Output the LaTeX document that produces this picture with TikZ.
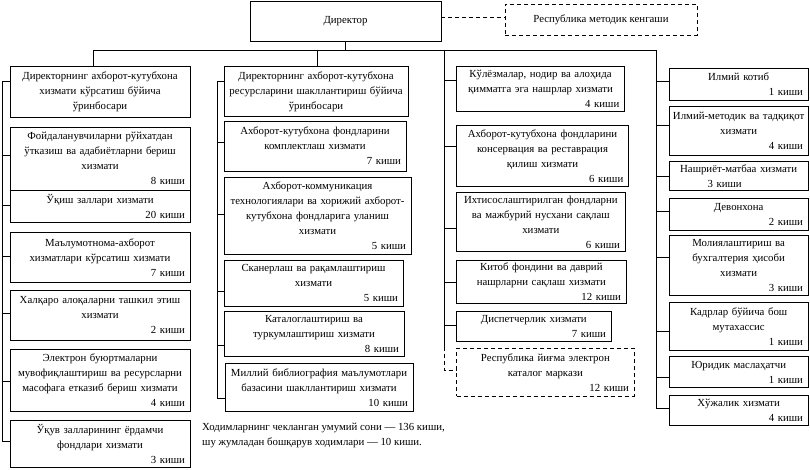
\documentclass[tikz,border=0pt]{standalone}
\usepackage{fontspec}
\setmainfont{Liberation Serif}
\tikzset{
  ubox/.style={draw, line width=0.8pt, inner xsep=1pt, inner ysep=1pt, font=\fontsize{10.8}{15}\selectfont},
  dbox/.style={ubox, dash pattern=on 4pt off 3pt},
  conn/.style={line width=0.8pt},
  dconn/.style={conn, dash pattern=on 4pt off 3pt},
}
\newcommand\obox[8][ubox]{%
  \pgfmathsetmacro\obtw{#5-2}%
  \node[#1, minimum width=#5pt, minimum height=#6pt, text width=\obtw pt] (#2) at (#3,#4)
  {\centering #7\par\if\relax\detokenize{#8}\relax\else\raggedleft #8\hspace*{4pt}\par\fi};}
\begin{document}
\begin{tikzpicture}[x=1pt, y=-1pt]
\useasboundingbox (0,0) rectangle (810,469);
% top
\node[ubox, minimum width=191pt, minimum height=40pt] (dir) at (345.5,21) {Директор};
\node[dbox, minimum width=192pt, minimum height=31pt] (council) at (601,19.7) {Республика методик кенгаши};
\coordinate (dl) at (441,17);
\draw[dconn] (dl) -- (dl -| council.west);
% bus
\coordinate (d1) at (93,50);
\coordinate (d2) at (317.7,50);
\coordinate (d3) at (444,50);
\coordinate (d4) at (656,50);
\draw[conn] (dir.south) -- (dir.south |- d1);
\draw[conn] (d1) -- (d4);
% column 1
\obox{c1a}{100}{92}{180}{50.6}{Директорнинг ахборот-кутубхона\\хизмати кўрсатиш бўйича\\ўринбосари}{}
\obox{c1b}{100}{158.85}{180}{62.3}{Фойдаланувчиларни рўйхатдан\\ўтказиш ва адабиётларни бериш\\хизмати}{8 киши}
\obox{c1c}{100}{206.35}{180}{32.7}{Ўқиш заллари хизмати}{20 киши}
\obox{c1d}{100}{257.5}{180}{49.6}{Маълумотнома-ахборот\\хизматлари кўрсатиш хизмати}{7 киши}
\obox{c1e}{100}{315.35}{180}{49.3}{Халқаро алоқаларни ташкил этиш\\хизмати}{2 киши}
\obox{c1f}{100}{380.15}{180}{61.7}{Электрон буюртмаларни\\мувофиқлаштириш ва ресурсларни\\масофага етказиб бериш хизмати}{4 киши}
\obox{c1g}{100}{443.65}{180}{47.3}{Ўқув залларининг ёрдамчи\\фондлари хизмати}{3 киши}
\draw[conn] (d1) -- (d1 |- c1a.north);
\coordinate (s1a) at (2,81);
\coordinate (s1b) at (2,155);
\coordinate (s1c) at (2,205);
\coordinate (s1d) at (2,256.7);
\coordinate (s1e) at (2,313);
\coordinate (s1f) at (2,381.7);
\coordinate (s1g) at (2,441.7);
\draw[conn] (s1a) -- (s1g);
\foreach \s in {a,b,c,d,e,f,g} \draw[conn] (s1\s) -- (s1\s -| c1\s.west);
% column 2
\obox{c2a}{316}{91.35}{184}{49.3}{Директорнинг ахборот-кутубхона\\ресурсларини шакллантириш бўйича\\ўринбосари}{}
\obox{c2b}{315}{146}{182}{50}{Ахборот-кутубхона фондларини\\комплектлаш хизмати}{7 киши}
\obox{c2c}{317.5}{215.8}{187}{77}{Ахборот-коммуникация\\технологиялари ва хорижий ахборот-\\кутубхона фондларига уланиш\\хизмати}{5 киши}
\obox{c2d}{313.5}{283.35}{179}{45.3}{Сканерлаш ва рақамлаштириш\\хизмати}{5 киши}
\obox{c2e}{314}{334.2}{180}{45}{Каталоглаштириш ва\\туркумлаштириш хизмати}{8 киши}
\obox{c2f}{319}{387.5}{188}{48.4}{Миллий библиография маълумотлари\\базасини шакллантириш хизмати}{10 киши}
\draw[conn] (d2) -- (d2 |- c2a.north);
\coordinate (s2a) at (217,81.7);
\coordinate (s2b) at (217,142.7);
\coordinate (s2c) at (217,214.3);
\coordinate (s2d) at (217,291.7);
\coordinate (s2e) at (217,345);
\coordinate (s2f) at (217,398.3);
\draw[conn] (s2a) -- (s2f);
\foreach \s in {a,b,c,d,e,f} \draw[conn] (s2\s) -- (s2\s -| c2\s.west);
% column 3
\obox{c3a}{540.5}{88.85}{167.6}{45.7}{Кўлёзмалар, нодир ва алоҳида\\қимматга эга нашрлар хизмати}{4 киши}
\obox{c3b}{542.5}{155.85}{171.6}{61.7}{Ахборот-кутубхона фондларини\\консервация ва реставрация\\қилиш хизмати}{6 киши}
\obox{c3c}{540.85}{221.85}{168.3}{59.7}{Ихтисослаштирилган фондларни\\ва мажбурий нусхани сақлаш\\хизмати}{6 киши}
\obox{c3d}{541.35}{281.65}{169.3}{43.3}{Китоб фондини ва даврий\\нашрларни сақлаш хизмати}{12 киши}
\obox{c3e}{533.85}{326.35}{154.3}{30.7}{Диспетчерлик хизмати}{7 киши}
\obox[dbox]{c3f}{545.35}{372.15}{177.3}{47.7}{Республика йиғма электрон\\каталог маркази}{12 киши}
\coordinate (s3a) at (444,80);
\coordinate (s3b) at (444,146);
\coordinate (s3c) at (444,228.3);
\coordinate (s3d) at (444,282.3);
\coordinate (s3e) at (444,325.7);
\coordinate (s3end) at (444,346.7);
\coordinate (s3f) at (444,370);
\draw[conn] (d3) -- (s3end);
\foreach \s in {a,b,c,d,e} \draw[conn] (s3\s) -- (s3\s -| c3\s.west);
\draw[dconn] (s3end) -- (s3f) -- (s3f -| c3f.west);
% column 4
\obox{c4a}{738.65}{84.15}{138.7}{31.7}{Илмий котиб}{1 киши}
\obox{c4b}{738.65}{130.85}{138.7}{48.3}{Илмий-методик ва тадқиқот\\хизмати}{4 киши}
\obox{c4c}{738.65}{175.85}{138.7}{28.3}{Нашриёт-матбаа хизмати\\\hspace*{-28pt}3 киши}{}
\obox{c4d}{738.65}{214.15}{138.7}{31.7}{Девонхона}{2 киши}
\obox{c4e}{738.65}{265.7}{138.7}{60}{Молиялаштириш ва\\бухгалтерия ҳисоби\\хизмати}{3 киши}
\obox{c4f}{738.65}{326.5}{138.7}{48.4}{Кадрлар бўйича бош\\мутахассис}{1 киши}
\obox{c4g}{738.65}{372}{138.7}{30.6}{Юридик маслаҳатчи}{1 киши}
\obox{c4h}{738.65}{410.35}{138.7}{30.7}{Хўжалик хизмати}{4 киши}
\coordinate (s4a) at (656,81.7);
\coordinate (s4b) at (656,125);
\coordinate (s4c) at (656,176);
\coordinate (s4d) at (656,211.7);
\coordinate (s4e) at (656,257.7);
\coordinate (s4f) at (656,331);
\coordinate (s4g) at (656,377.3);
\coordinate (s4h) at (656,408.3);
\draw[conn] (d4) -- (s4h);
\foreach \s in {a,b,c,d,e,f,g,h} \draw[conn] (s4\s) -- (s4\s -| c4\s.west);
% note
\node[anchor=north west, align=left, inner sep=0pt, font=\fontsize{10.8}{15.3}\selectfont] (note) at (202,423)
  {Ходимларнинг чекланган умумий сони — 136 киши,\\шу жумладан бошқарув ходимлари — 10 киши.};
\end{tikzpicture}
\end{document}
